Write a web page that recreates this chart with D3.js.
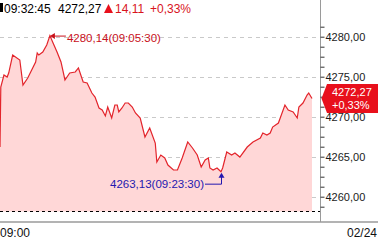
<!DOCTYPE html>
<html>
<head>
<meta charset="utf-8">
<script src="https://cdn.jsdelivr.net/npm/d3@7/dist/d3.min.js"></script>
<style>
  body { margin: 0; background: #fff; }
  text { font-family: "Liberation Sans", Arial, sans-serif; }
</style>
</head>
<body>
<svg id="chart" width="378" height="242"></svg>
<script>
/************************* Data ************************* */
const times = [
  "09:00:15", "09:00:20", "09:00:40", "09:01:00", "09:01:10", "09:01:35", "09:02:20", "09:02:40",
  "09:03:10", "09:03:35", "09:04:00", "09:04:10", "09:04:20", "09:04:45", "09:05:10", "09:05:30",
  "09:05:50", "09:06:15", "09:06:40", "09:07:05", "09:07:35", "09:08:10", "09:08:30", "09:09:00",
  "09:09:25", "09:09:55", "09:10:15", "09:10:40", "09:11:00", "09:11:20", "09:11:35", "09:12:00",
  "09:12:20", "09:12:35", "09:12:45", "09:13:05", "09:13:25", "09:13:45", "09:14:10", "09:14:30",
  "09:15:00", "09:15:30", "09:16:00", "09:16:35", "09:16:45", "09:17:10", "09:17:35", "09:17:55",
  "09:18:30", "09:18:55", "09:19:25", "09:20:00", "09:20:30", "09:21:00", "09:21:25", "09:21:50",
  "09:22:10", "09:22:20", "09:22:40", "09:23:05", "09:23:30", "09:23:40", "09:24:05", "09:24:35",
  "09:24:55", "09:25:25", "09:26:10", "09:26:45", "09:27:30", "09:27:45", "09:28:10", "09:28:30",
  "09:28:45", "09:29:20", "09:30:00", "09:30:20", "09:30:50", "09:31:15", "09:31:25", "09:31:50",
  "09:32:15", "09:32:25", "09:32:45"
];
const prices = [
  4266.21, 4273.71, 4275.21, 4274.96, 4275.46, 4277.71, 4277.09, 4273.96,
  4274.84, 4275.84, 4276.84, 4277.96, 4277.71, 4278.09, 4278.96, 4280.14,
  4279.21, 4278.09, 4276.84, 4274.59, 4275.46, 4275.59, 4276.09, 4274.34,
  4274.21, 4272.96, 4272.46, 4271.09, 4270.84, 4270.09, 4271.21, 4269.84,
  4271.46, 4271.46, 4270.59, 4271.09, 4271.71, 4271.71, 4271.21, 4270.46,
  4269.84, 4267.46, 4268.59, 4266.71, 4264.34, 4265.21, 4264.84, 4263.96,
  4263.34, 4263.34, 4264.84, 4266.84, 4266.09, 4265.21, 4263.71, 4264.59,
  4264.84, 4263.59, 4263.34, 4263.59, 4263.13, 4263.59, 4265.59, 4265.21,
  4265.46, 4264.96, 4266.21, 4266.84, 4267.34, 4267.96, 4267.71, 4267.96,
  4268.71, 4269.21, 4271.46, 4270.84, 4270.59, 4269.84, 4271.21, 4271.71,
  4272.71, 4272.96, 4272.27
];
const yTicks = [4260, 4265, 4270, 4275, 4280];
const yMinorTicks = [4258.75, 4261.25, 4262.5, 4263.75, 4266.25, 4267.5, 4268.75,
  4271.25, 4272.5, 4273.75, 4276.25, 4277.5, 4278.75, 4281.25];
const xLabels = ["09:00", "02/24"];
const lastTime = "09:32:45";
const lastPrice = 4272.27;
const change = 14.11;
const changePct = 0.33;

/************************* Scales ************************* */
const svg = d3.select("svg#chart");
const parseT = d3.timeParse("%H:%M:%S");
const data = times.map((t, i) => ({ t: parseT(t), label: t, v: prices[i] }));

const plotRight = 320.5;
const plotBottom = 211.5;
// the HTS x axis is not evenly spaced in time, so use a piecewise time scale
const scaleX = d3.scaleTime()
  .domain([parseT("09:00:15"), parseT("09:23:30"), parseT("09:32:45")])
  .range([0, 221, 312]);
const scaleY = d3.scaleLinear().domain([4260, 4280]).range([196.7, 36.7]);

const fmt = (v) => d3.format(".2f")(v).replace(".", ",");

/************************* Grid ************************* */
svg.append("g").attr("class", "grid")
  .selectAll("line")
  .data(yTicks)
  .join("line")
  .attr("x1", 0).attr("x2", plotRight)
  .attr("y1", (d) => Math.round(scaleY(d)) + 0.5)
  .attr("y2", (d) => Math.round(scaleY(d)) + 0.5)
  .attr("stroke", "#c9c9c9")
  .attr("stroke-dasharray", "4,4");

/************************* Area + line ************************* */
const area = d3.area().x((d) => scaleX(d.t)).y0(plotBottom).y1((d) => scaleY(d.v));
const line = d3.line().x((d) => scaleX(d.t)).y((d) => scaleY(d.v));

svg.append("path").datum(data).attr("d", area).attr("fill", "#ffd7d7");
svg.append("path").datum(data).attr("d", line)
  .attr("fill", "none").attr("stroke", "#e3242b").attr("stroke-width", 1.2);

// bottom dashed + frame
svg.append("line").attr("x1", 0).attr("x2", plotRight).attr("y1", plotBottom).attr("y2", plotBottom)
  .attr("stroke", "#000").attr("stroke-dasharray", "3,3");
svg.append("line").attr("x1", 0).attr("x2", 378).attr("y1", 222).attr("y2", 222)
  .attr("stroke", "#9a9a9a").attr("stroke-width", 1.5);
svg.append("line").attr("x1", plotRight).attr("x2", plotRight).attr("y1", 0).attr("y2", 222)
  .attr("stroke", "#9a9a9a");

/************************* Y axis ************************* */
const axisG = svg.append("g").attr("class", "y-axis").attr("transform", `translate(${plotRight},0)`);
axisG.call(d3.axisRight(scaleY).tickValues(yMinorTicks).tickSize(4).tickFormat(""));
axisG.append("g").call(d3.axisRight(scaleY).tickValues(yTicks).tickSize(4).tickPadding(1).tickFormat(fmt));
axisG.selectAll(".domain").remove();
axisG.selectAll(".tick line").attr("stroke", "#333");
axisG.selectAll(".tick text")
  .attr("fill", "#1a1a1a")
  .style("font-size", "11px")
  .style("font-family", "Liberation Sans, Arial, sans-serif");

/************************* Current price tag ************************* */
const ly = scaleY(lastPrice);
svg.append("path")
  .attr("d", `M${plotRight + 1},${ly} L327,${ly - 14.5} L378,${ly - 14.5} L378,${ly + 14.5} L327,${ly + 14.5} Z`)
  .attr("fill", "#e8101c");
svg.append("text").attr("x", 332).attr("y", ly - 3).text(fmt(lastPrice))
  .attr("fill", "#fff").style("font-size", "11px");
svg.append("text").attr("x", 332).attr("y", ly + 10).text(`+${fmt(changePct)}%`)
  .attr("fill", "#fff").style("font-size", "11px");

/************************* Max / min annotations ************************* */
const maxD = data[d3.maxIndex(data, (d) => d.v)];
const minD = data[d3.minIndex(data, (d) => d.v)];

const mx = scaleX(maxD.t), my = scaleY(maxD.v);
const maxG = svg.append("g").attr("class", "max-note");
maxG.append("line").attr("x1", mx + 2).attr("x2", mx + 16).attr("y1", my + 0.5).attr("y2", my + 0.5)
  .attr("stroke", "#c8101a");
maxG.append("path").attr("d", `M${mx},${my + 0.5} l5,-3 l0,6 Z`).attr("fill", "#c8101a");
maxG.append("text").attr("x", mx + 17).attr("y", my + 6)
  .text(`${fmt(maxD.v)}(${maxD.label})`)
  .attr("fill", "#c8101a").style("font-size", "11.5px");

const nx = scaleX(minD.t), ny = scaleY(minD.v);
const minG = svg.append("g").attr("class", "min-note");
minG.append("path").attr("d", `M${nx + 0.5},${ny + 4} L${nx + 0.5},${ny + 12.5} L${nx - 16},${ny + 12.5}`)
  .attr("fill", "none").attr("stroke", "#2418b0");
minG.append("path").attr("d", `M${nx + 0.5},${ny + 1} l-3,5 l6,0 Z`).attr("fill", "#2418b0");
minG.append("text").attr("x", nx - 17).attr("y", ny + 16.5).attr("text-anchor", "end")
  .text(`${fmt(minD.v)}(${minD.label})`)
  .attr("fill", "#2418b0").style("font-size", "11.5px");

/************************* Header ************************* */
const head = svg.append("g").attr("class", "header").style("font-size", "12px");
head.append("rect").attr("x", 0).attr("y", 3).attr("width", 3).attr("height", 9).attr("fill", "#000");
head.append("text").attr("x", 4).attr("y", 13).text(lastTime).attr("fill", "#000");
head.append("text").attr("x", 58).attr("y", 13).text(fmt(lastPrice)).attr("fill", "#000");
head.append("path").attr("d", "M104,13 L108.5,4 L113,13 Z").attr("fill", "#e8101c");
head.append("text").attr("x", 115).attr("y", 13).text(fmt(change)).attr("fill", "#d8141c");
head.append("text").attr("x", 150).attr("y", 13).text(`+${fmt(changePct)}%`).attr("fill", "#d8141c");

/************************* X labels ************************* */
svg.append("text").attr("x", 0).attr("y", 237).text(xLabels[0]).attr("fill", "#111").style("font-size", "12px");
svg.append("text").attr("x", 377).attr("y", 237).attr("text-anchor", "end").text(xLabels[1])
  .attr("fill", "#111").style("font-size", "12px");
</script>
</body>
</html>
